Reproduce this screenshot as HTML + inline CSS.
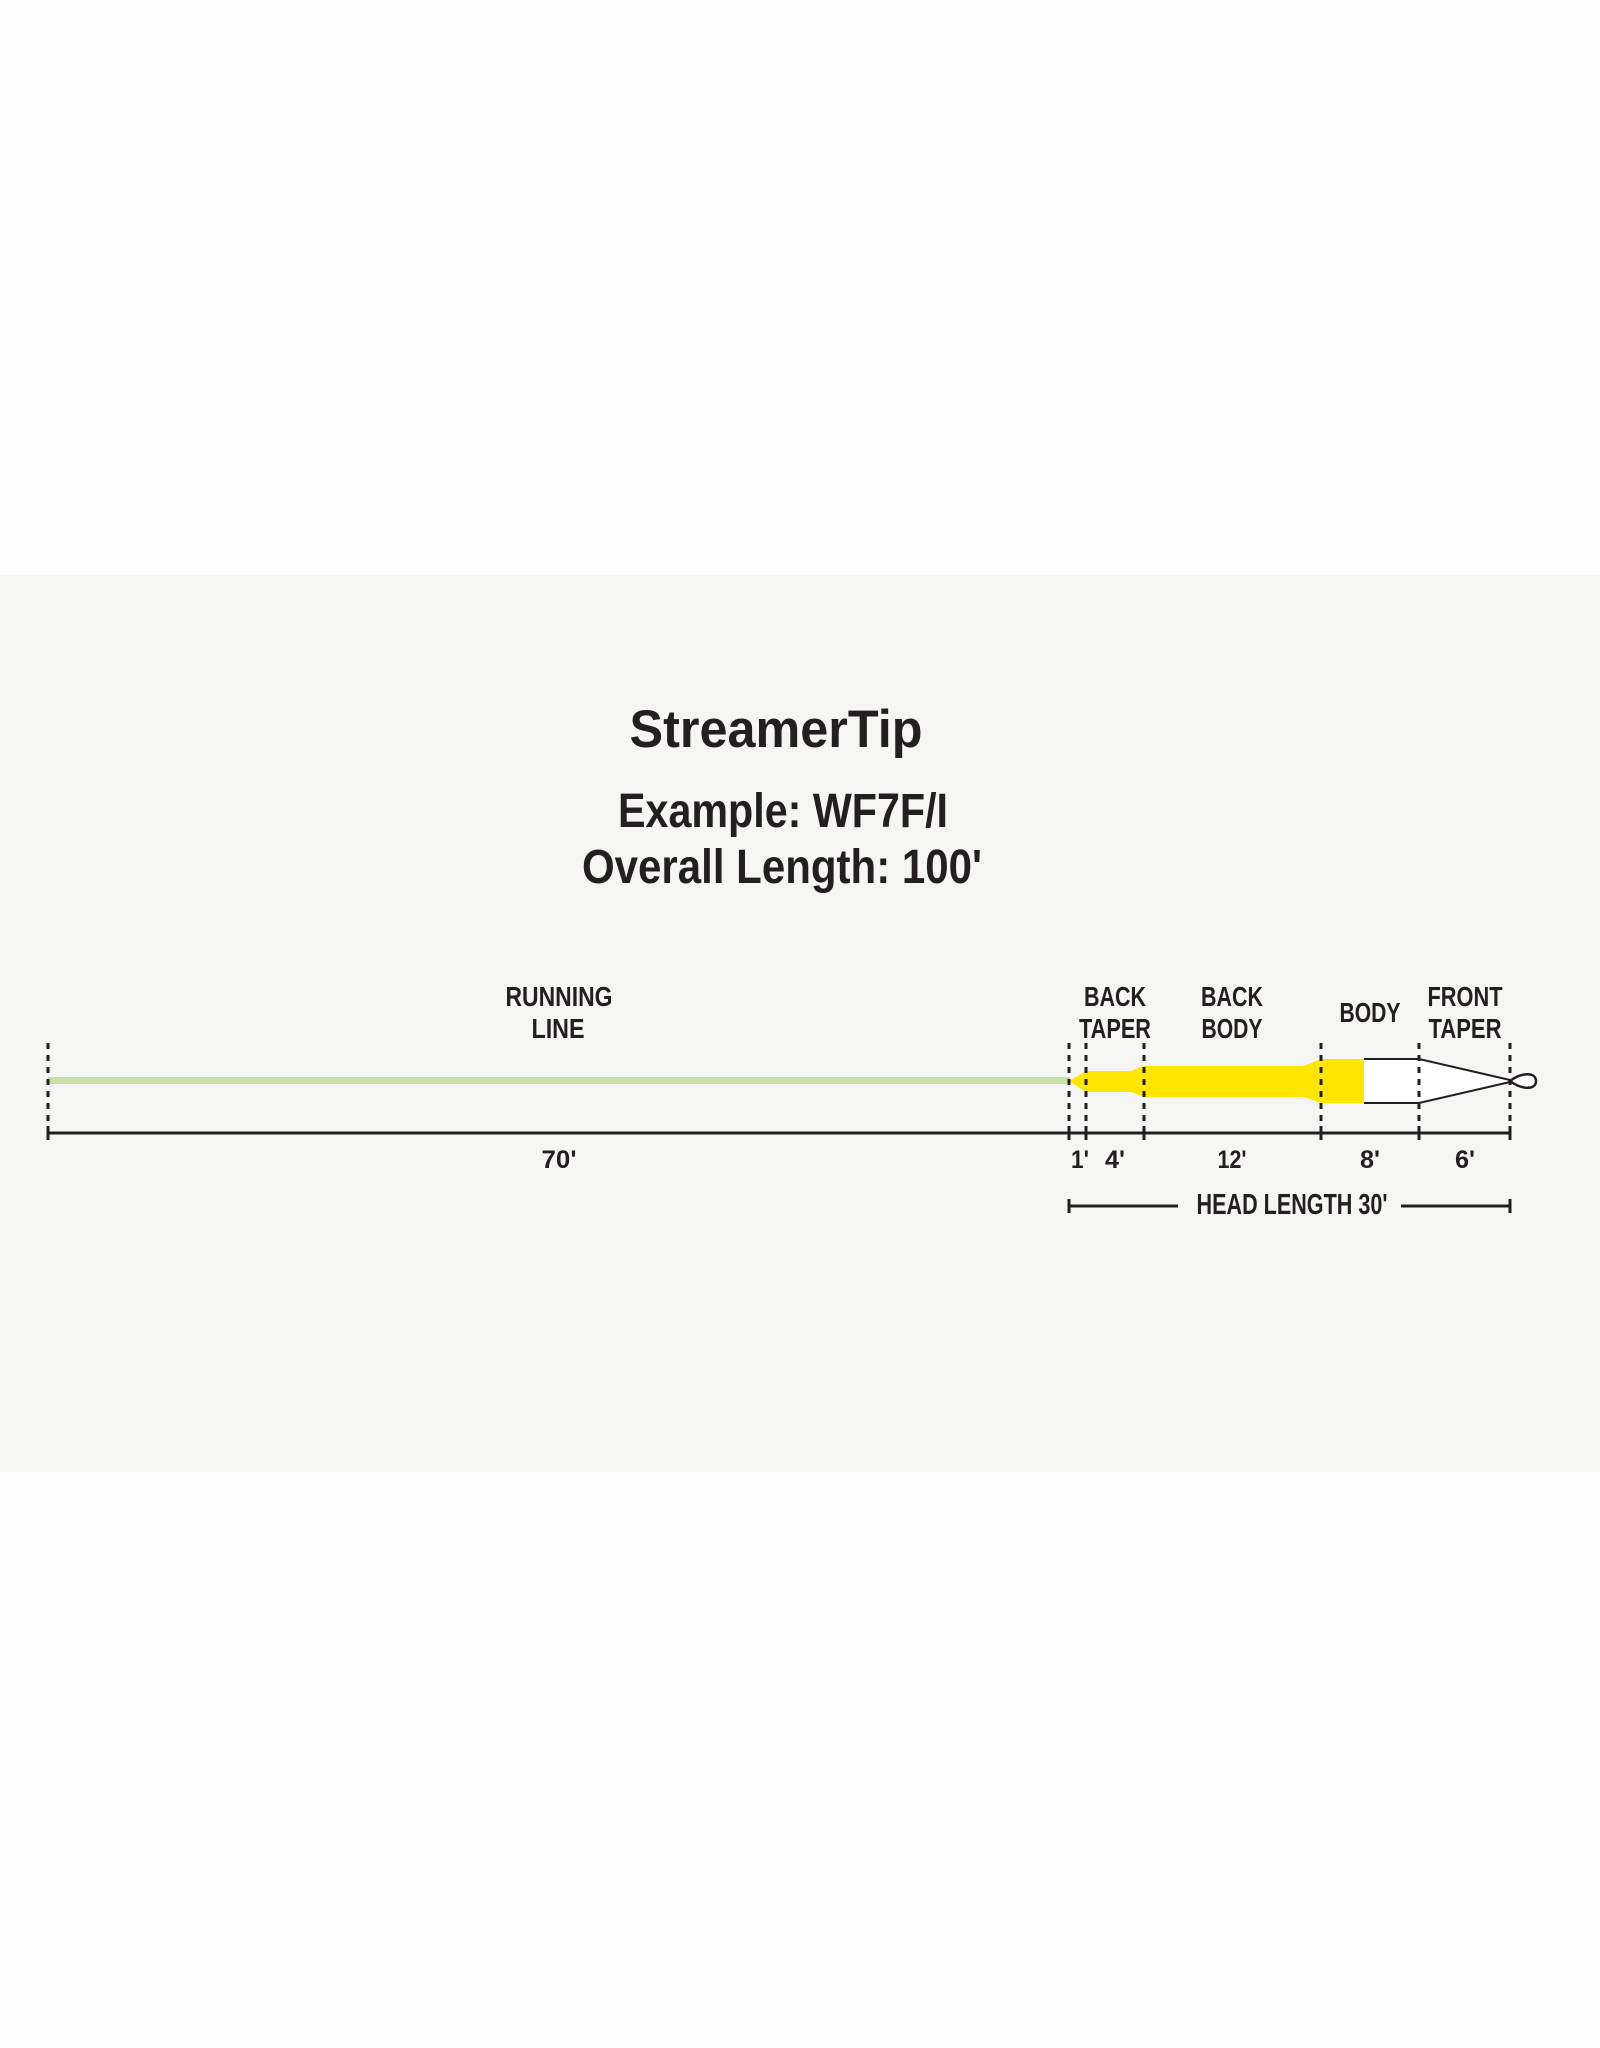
<!DOCTYPE html>
<html><head><meta charset="utf-8"><style>
html,body{margin:0;padding:0;background:#fdfdfd;}
svg{display:block;}
text{font-family:"Liberation Sans",sans-serif;font-weight:bold;fill:#231f20;}
</style></head><body>
<svg width="1600" height="2048" viewBox="0 0 1600 2048" xmlns="http://www.w3.org/2000/svg">
<rect x="0" y="0" width="1600" height="2048" fill="#fdfdfd"/>
<rect x="0" y="575" width="1600" height="897" fill="#f5f5f3"/>
<text x="776" y="747" font-size="53" text-anchor="middle" textLength="293" lengthAdjust="spacingAndGlyphs">StreamerTip</text>
<text x="783" y="827" font-size="48" text-anchor="middle" textLength="330" lengthAdjust="spacingAndGlyphs">Example: WF7F/I</text>
<text x="782" y="883" font-size="48" text-anchor="middle" textLength="400" lengthAdjust="spacingAndGlyphs">Overall Length: 100'</text>

<g font-size="28" text-anchor="middle">
<text x="559" y="1006" textLength="107" lengthAdjust="spacingAndGlyphs">RUNNING</text>
<text x="558" y="1038" textLength="53" lengthAdjust="spacingAndGlyphs">LINE</text>
<text x="1115" y="1006" textLength="62" lengthAdjust="spacingAndGlyphs">BACK</text>
<text x="1115" y="1038" textLength="72" lengthAdjust="spacingAndGlyphs">TAPER</text>
<text x="1232" y="1006" textLength="62" lengthAdjust="spacingAndGlyphs">BACK</text>
<text x="1232" y="1038" textLength="61" lengthAdjust="spacingAndGlyphs">BODY</text>
<text x="1370" y="1022" textLength="61" lengthAdjust="spacingAndGlyphs">BODY</text>
<text x="1465" y="1006" textLength="75" lengthAdjust="spacingAndGlyphs">FRONT</text>
<text x="1465" y="1038" textLength="73" lengthAdjust="spacingAndGlyphs">TAPER</text>
</g>

<rect x="48" y="1077" width="1022" height="7" fill="#cadfa6"/>
<polygon points="1069,1081 1086,1071 1131,1071 1144,1066 1304,1066 1321,1059 1364,1059 1364,1103 1321,1103 1304,1097 1144,1097 1131,1092 1086,1092" fill="#ffe600"/>
<polygon points="1364,1059 1419,1059 1510,1080 1510,1082 1419,1103 1364,1103" fill="#ffffff"/>
<polyline points="1364,1059 1419,1059 1510,1080" fill="none" stroke="#231f20" stroke-width="2"/>
<polyline points="1364,1103 1419,1103 1510,1082" fill="none" stroke="#231f20" stroke-width="2"/>
<path d="M1510,1081 C1522,1072 1536,1072 1536,1081 C1536,1090 1522,1090 1510,1081 Z" fill="#fff" stroke="#231f20" stroke-width="2.5"/>

<g stroke="#231f20" stroke-width="3" stroke-dasharray="6,6">
<line x1="48" y1="1043" x2="48" y2="1125"/>
<line x1="1069" y1="1043" x2="1069" y2="1125"/>
<line x1="1086" y1="1043" x2="1086" y2="1125"/>
<line x1="1144" y1="1043" x2="1144" y2="1125"/>
<line x1="1321" y1="1043" x2="1321" y2="1125"/>
<line x1="1419" y1="1043" x2="1419" y2="1125"/>
<line x1="1510" y1="1043" x2="1510" y2="1125"/>
</g>
<line x1="48" y1="1133" x2="1510" y2="1133" stroke="#231f20" stroke-width="3"/>
<g stroke="#231f20" stroke-width="3">
<line x1="48" y1="1126" x2="48" y2="1140"/>
<line x1="1069" y1="1126" x2="1069" y2="1140"/>
<line x1="1086" y1="1126" x2="1086" y2="1140"/>
<line x1="1144" y1="1126" x2="1144" y2="1140"/>
<line x1="1321" y1="1126" x2="1321" y2="1140"/>
<line x1="1419" y1="1126" x2="1419" y2="1140"/>
<line x1="1510" y1="1126" x2="1510" y2="1140"/>
</g>
<g font-size="25" text-anchor="middle">
<text x="559" y="1168" textLength="35" lengthAdjust="spacingAndGlyphs">70'</text>
<text x="1080" y="1168" textLength="18" lengthAdjust="spacingAndGlyphs">1'</text>
<text x="1115" y="1168" textLength="20" lengthAdjust="spacingAndGlyphs">4'</text>
<text x="1232" y="1168" textLength="29" lengthAdjust="spacingAndGlyphs">12'</text>
<text x="1370" y="1168" textLength="20" lengthAdjust="spacingAndGlyphs">8'</text>
<text x="1465" y="1168" textLength="20" lengthAdjust="spacingAndGlyphs">6'</text>
</g>
<line x1="1069" y1="1206" x2="1178" y2="1206" stroke="#231f20" stroke-width="3"/>
<line x1="1401" y1="1206" x2="1510" y2="1206" stroke="#231f20" stroke-width="3"/>
<line x1="1069" y1="1199" x2="1069" y2="1213" stroke="#231f20" stroke-width="3"/>
<line x1="1510" y1="1199" x2="1510" y2="1213" stroke="#231f20" stroke-width="3"/>
<text x="1292" y="1214" font-size="29" text-anchor="middle" textLength="191" lengthAdjust="spacingAndGlyphs">HEAD LENGTH 30'</text>
</svg>
</body></html>
